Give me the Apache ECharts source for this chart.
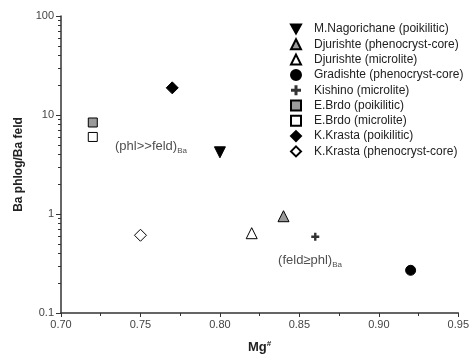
<!DOCTYPE html>
<html><head><meta charset="utf-8">
<script src="https://cdn.jsdelivr.net/npm/echarts@6/dist/echarts.min.js"></script>
<style>html,body{margin:0;padding:0;background:#fff}#c{width:472px;height:359px}</style>
</head><body><div id="c"></div>
<script>
const xTicks = [0.70, 0.75, 0.80, 0.85, 0.90, 0.95];
const yMajor = [0.1, 1, 10, 100];
const yMinor = [0.2,0.3,0.4,0.5,0.6,0.7,0.8,0.9,2,3,4,5,6,7,8,9,20,30,40,50,60,70,80,90];

const nagorichane = [[0.80, 4.2]];
const djurPheno = [[0.84, 0.95]];
const djurMicro = [[0.82, 0.64]];
const gradishte = [[0.92, 0.27]];
const kishino = [[0.86, 0.59]];
const brdoPoik = [[0.72, 8.4]];
const brdoMicro = [[0.72, 6.0]];
const krastaPoik = [[0.77, 18.8]];
const krastaPheno = [[0.75, 0.61]];

const annotations = [
  {pos: [0.734, 4.85], main: '(phl>>feld)', sub: 'Ba'},
  {pos: [0.8366, 0.343], main: '(feld\u2265phl)', sub: 'Ba'}
];

const plusPath = 'path://M3.5,0H6.5V3.5H10V6.5H6.5V10H3.5V6.5H0V3.5H3.5Z';
const invTri = 'path://M0,0H10L5,9Z';
const F = 'Liberation Sans, Arial, sans-serif';

function s(name, data, symbol, size, fill, rotate) {
  return {
    name, type: 'scatter', data, symbol, symbolSize: size, symbolRotate: rotate || 0,
    itemStyle: {color: fill, borderColor: '#000', borderWidth: 1, opacity: 1},
    emphasis: {disabled: true}
  };
}

const names = ['M.Nagorichane (poikilitic)','Djurishte (phenocryst-core)','Djurishte (microlite)',
  'Gradishte (phenocryst-core)','Kishino (microlite)','E.Brdo (poikilitic)','E.Brdo (microlite)',
  'K.Krasta (poikilitic)','K.Krasta (phenocryst-core)'];

const chart = echarts.init(document.getElementById('c'), null, {renderer: 'canvas'});
chart.setOption({
  animation: false,
  grid: {left: 61, right: 12, top: 16, bottom: 46},
  legend: {
    orient: 'vertical', left: 285, top: 18, itemWidth: 10, itemHeight: 10, itemGap: 3.3,
    textStyle: {fontFamily: F, fontSize: 12, lineHeight: 10, color: '#222', padding: [0,0,0,8]},
    data: names.map((n, i) => i === 0 ? {name: n, icon: invTri} : (i === 4 ? {name: n, icon: plusPath, itemStyle: {borderWidth: 0}} : {name: n}))
  },
  xAxis: {
    type: 'value', min: 0.70, max: 0.95, interval: 0.05,
    name: '{m|Mg}{s|#}', nameLocation: 'middle', nameGap: 27,
    nameTextStyle: {rich: {m: {fontFamily: F, fontSize: 13, fontWeight: 'bold', color: '#222'},
      s: {fontFamily: F, fontSize: 8, fontWeight: 'bold', color: '#222', verticalAlign: 'top', padding: [0,0,6,0]}}},
    axisLine: {lineStyle: {color: '#333', width: 1.5}},
    axisTick: {length: 4, lineStyle: {color: '#333'}},
    minorTick: {show: true, splitNumber: 2, length: 3, lineStyle: {color: '#333'}},
    splitLine: {show: false},
    axisLabel: {fontFamily: F, fontSize: 11, color: '#444', margin: 6, formatter: v => v.toFixed(2)}
  },
  yAxis: [{
    type: 'log', logBase: 10, min: 0.1, max: 100,
    name: 'Ba phlog/Ba feld', nameLocation: 'middle', nameGap: 35, nameRotate: 90,
    nameTextStyle: {fontFamily: F, fontSize: 12, fontWeight: 'bold', color: '#222'},
    axisLine: {show: true, lineStyle: {color: '#333', width: 1.5}},
    axisTick: {show: true, length: 5, lineStyle: {color: '#333'}},
    splitLine: {show: false},
    axisLabel: {fontFamily: F, fontSize: 11, color: '#444', margin: 7,
      formatter: v => (v < 1 ? v.toFixed(1) : String(Math.round(v)))}
  }, {
    type: 'log', logBase: 10, min: 0.1, max: 100, position: 'left', offset: 0,
    axisLine: {show: false},
    axisTick: {show: true, length: 3, customValues: yMinor, lineStyle: {color: '#333'}},
    axisLabel: {show: false}, splitLine: {show: false}
  }],
  series: [
    s(names[0], nagorichane, 'triangle', 11, '#000', 180),
    s(names[1], djurPheno, 'triangle', 11, '#9a9a9a'),
    s(names[2], djurMicro, 'triangle', 11, '#fff'),
    s(names[3], gradishte, 'circle', 10, '#000'),
    Object.assign(s(names[4], kishino, plusPath, 8, '#000'), {itemStyle: {color: '#000', borderWidth: 0}}),
    s(names[5], brdoPoik, 'rect', 9, '#9a9a9a'),
    s(names[6], brdoMicro, 'rect', 9, '#fff'),
    s(names[7], krastaPoik, 'diamond', 12, '#000'),
    s(names[8], krastaPheno, 'diamond', 12, '#fff'),
    {
      type: 'scatter', symbolSize: 0, silent: true, legendHoverLink: false,
      data: annotations.map(a => ({value: a.pos, label: {formatter: '{m|' + a.main + '}{b|' + a.sub + '}'}})),
      label: {show: true, position: 'right', distance: 0,
        rich: {m: {fontFamily: F, fontSize: 13, color: '#222'},
          b: {fontFamily: F, fontSize: 8, color: '#222', verticalAlign: 'bottom', padding: [9,0,0,0]}}}
    }
  ]
});
</script></body></html>
